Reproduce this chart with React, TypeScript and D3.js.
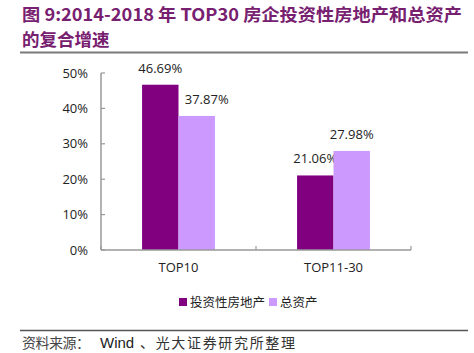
import React from "react";
import * as d3 from "d3";

const categories = ["TOP10", "TOP11-30"];
const seriesNames = ["投资性房地产", "总资产"];
const investProperty = [46.69, 21.06];
const totalAssets = [37.87, 27.98];
const yTicks = [0, 10, 20, 30, 40, 50];

const colors = ["#800080", "#CC99FF"];
const W = 474;
const H = 353;

export default function App() {
  const y = d3.scaleLinear().domain([0, 50]).range([250, 73]);
  const x = d3
    .scaleBand<string>()
    .domain(categories)
    .range([101, 411])
    .paddingInner(0.53)
    .paddingOuter(0.265);
  const x1 = d3.scaleBand<string>().domain(seriesNames).range([0, x.bandwidth()]);
  const series = [investProperty, totalAssets];
  const numFont = "'Open Sans', 'Noto Sans', sans-serif";
  const cjkFont = "'Noto Sans CJK SC', sans-serif";
  const labelNudge = (si: number, ci: number) => (si === 1 && ci === 0 ? 10 : 0);

  return (
    <svg
      width={W}
      height={H}
      style={{ position: "absolute", left: 0, top: 0, background: "#fff" }}
    >
      <text
        x={22}
        y={21}
        fontFamily={cjkFont}
        fontWeight="bold"
        fontSize={17.5}
        fill="#782070"
        textLength={440}
        lengthAdjust="spacingAndGlyphs"
      >
        图 9:2014-2018 年 TOP30 房企投资性房地产和总资产
      </text>
      <text x={22} y={46} fontFamily={cjkFont} fontWeight="bold" fontSize={17.5} fill="#782070">
        的复合增速
      </text>
      <line x1={20} x2={468} y1={52.5} y2={52.5} stroke="#7a7a7a" strokeWidth={2} />

      {/* y axis */}
      <line x1={101} x2={101} y1={y(50)} y2={y(0)} stroke="#999" strokeWidth={1.5} />
      {yTicks.map((t) => (
        <g key={t}>
          <line x1={101} x2={105} y1={y(t)} y2={y(t)} stroke="#999" strokeWidth={1.2} />
          <text
            x={88}
            y={y(t)}
            dy="0.36em"
            textAnchor="end"
            fontFamily={numFont}
            fontSize={13}
            fill="#222"
          >
            {t}%
          </text>
        </g>
      ))}

      {/* bars */}
      {categories.map((c, ci) =>
        series.map((s, si) => {
          const bx = (x(c) as number) + (x1(seriesNames[si]) as number);
          const bw = x1.bandwidth();
          const v = s[ci];
          return (
            <g key={c + si}>
              <rect x={bx} y={y(v)} width={bw} height={y(0) - y(v)} fill={colors[si]} />
              <text
                x={bx + bw / 2 + labelNudge(si, ci)}
                y={y(v) - 12}
                textAnchor="middle"
                fontFamily={numFont}
                fontSize={13}
                fill="#222"
              >
                {v.toFixed(2)}%
              </text>
            </g>
          );
        })
      )}

      {/* x axis */}
      <line x1={101} x2={411} y1={y(0)} y2={y(0)} stroke="#999" strokeWidth={1.5} />
      {[101, ...categories.map((c) => (x(c) as number) + x.bandwidth() / 2 + x.step() / 2)].map(
        (tx, i) => (
          <line key={i} x1={tx} x2={tx} y1={y(0)} y2={y(0) - 4} stroke="#999" strokeWidth={1.2} />
        )
      )}
      {categories.map((c) => (
        <text
          key={c}
          x={(x(c) as number) + x.bandwidth() / 2}
          y={272}
          textAnchor="middle"
          fontFamily={numFont}
          fontSize={13}
          fill="#222"
        >
          {c}
        </text>
      ))}

      {/* legend */}
      {[
        { x: 179, tx: 190 },
        { x: 269, tx: 280 },
      ].map((p, i) => (
        <g key={i}>
          <rect x={p.x} y={298} width={8} height={8} fill={colors[i]} />
          <text x={p.tx} y={306.5} fontFamily={cjkFont} fontSize={12.5} fill="#222">
            {seriesNames[i]}
          </text>
        </g>
      ))}

      <line x1={20} x2={468} y1={330.5} y2={330.5} stroke="#555" strokeWidth={1.5} />
      <text x={22} y={348} fontFamily={cjkFont} fontSize={14} fill="#444" textLength={68} lengthAdjust="spacing">
        资料来源：
      </text>
      <text x={100} y={348} fontFamily={"'Liberation Sans', Arial, sans-serif"} fontSize={15} fill="#222">
        Wind
      </text>
      <text x={140} y={348} fontFamily={cjkFont} fontSize={14} fill="#333" textLength={155} lengthAdjust="spacing">
        、光大证券研究所整理
      </text>
    </svg>
  );
}
